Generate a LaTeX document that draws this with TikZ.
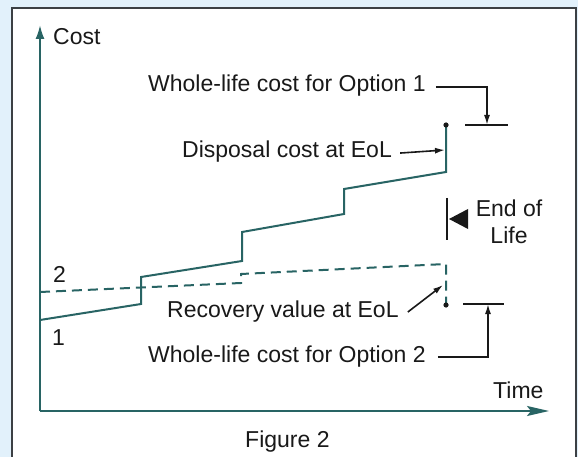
\documentclass[tikz,border=0pt]{standalone}
\usepackage{fontspec}
\setmainfont{Liberation Sans}
\usetikzlibrary{arrows.meta,positioning,calc}

\definecolor{bgblue}{RGB}{226,241,251}
\definecolor{framecol}{RGB}{60,64,68}
\definecolor{curvecol}{RGB}{40,100,100}
\definecolor{textcol}{RGB}{25,25,25}

\begin{document}
\begin{tikzpicture}[x=1pt,y=-1pt]
\tikzstyle{tag} = [font=\fontsize{23}{27}\selectfont, text=textcol, inner sep=0pt]
\tikzstyle{axis} = [draw=curvecol, line width=2pt]
\tikzstyle{costline} = [draw=curvecol, line width=2pt]
\tikzstyle{pointer} = [draw=textcol, line width=1.6pt, -{Latex[length=10pt,width=6pt]}]
\tikzstyle{level} = [draw=textcol, line width=2pt]

% Panel and frame
\useasboundingbox (0,0) rectangle (578,457);
\fill [bgblue] (0,0) rectangle (578,457);
\draw [fill=white, draw=framecol, line width=1.6pt] (12,8) rectangle (576,470);

% Axes
\coordinate (origin) at (40,411);
\coordinate (ytip) at (40,25);
\coordinate (xtip) at (549,411);
\draw [axis, -{Latex[length=14pt,width=9pt]}] (origin) -- (ytip);
\draw [axis, -{Stealth[length=22pt,width=10pt,inset=4pt]}] (origin) -- (xtip);
\node [tag, anchor=base west] (cost) at (53,45) {Cost};
\node [tag, anchor=base west] (time) at (493,398) {Time};
\node [tag, anchor=base west] (figure) at (245,447) {Figure 2};

% Option 1: cost with steps
\draw [costline] (40,320) -- (141,304) -- (141,277) -- (242,261) -- (242,232)
  -- (344,214) -- (344,189) -- (446,172) -- (446,125) coordinate (top1);
\fill [textcol] (top1) circle (2.6pt);
\node [tag, anchor=base west] (one) at (52,345) {1};

% Option 2: dashed cost
\draw [costline, dash pattern=on 10pt off 6pt] (40,292) -- (241,283) -- (241,274)
  -- (446,264) -- (446,305) coordinate (bot2);
\fill [textcol] (bot2) circle (2.6pt);
\node [tag, anchor=base west] (two) at (53,282) {2};

% Whole-life cost for Option 1
\node [tag, anchor=base west] (whole1) at (148,92) {Whole-life cost for Option 1};
\coordinate (bar1) at (487,125);
\draw [level] ($(bar1)+(-22,0)$) -- ($(bar1)+(21,0)$);
\draw [pointer] ([xshift=10pt,yshift=-1pt]whole1.east) -| (bar1);

% Disposal cost at EoL
\node [tag, anchor=base west] (disposal) at (182,158) {Disposal cost at EoL};
\coordinate (disppt) at (445,150);
\draw [pointer] ([xshift=8pt,yshift=-1pt]disposal.east) -- (disppt);

% End of Life marker
\coordinate (eoltop) at (447,198);
\coordinate (eolbot) at (447,240);
\draw [level] (eoltop) -- (eolbot);
\fill [textcol] (449,219) -- (468,209) -- (468,229) -- cycle;
\node [tag, anchor=base] (endof) at (509,217) {End of};
\node [tag, anchor=base] (life) at (509,243) {Life};

% Recovery value at EoL
\node [tag, anchor=base west] (recovery) at (167,317) {Recovery value at EoL};
\coordinate (recpt) at (443,285);
\draw [pointer] ([xshift=9pt,yshift=-1pt]recovery.east) -- (recpt);

% Whole-life cost for Option 2
\node [tag, anchor=base west] (whole2) at (148,362) {Whole-life cost for Option 2};
\coordinate (bar2) at (488,304);
\draw [level] ($(bar2)+(-25,0)$) -- ($(bar2)+(16,0)$);
\draw [pointer] ([xshift=12pt,yshift=-1pt]whole2.east) -| (bar2);

\end{tikzpicture}
\end{document}
